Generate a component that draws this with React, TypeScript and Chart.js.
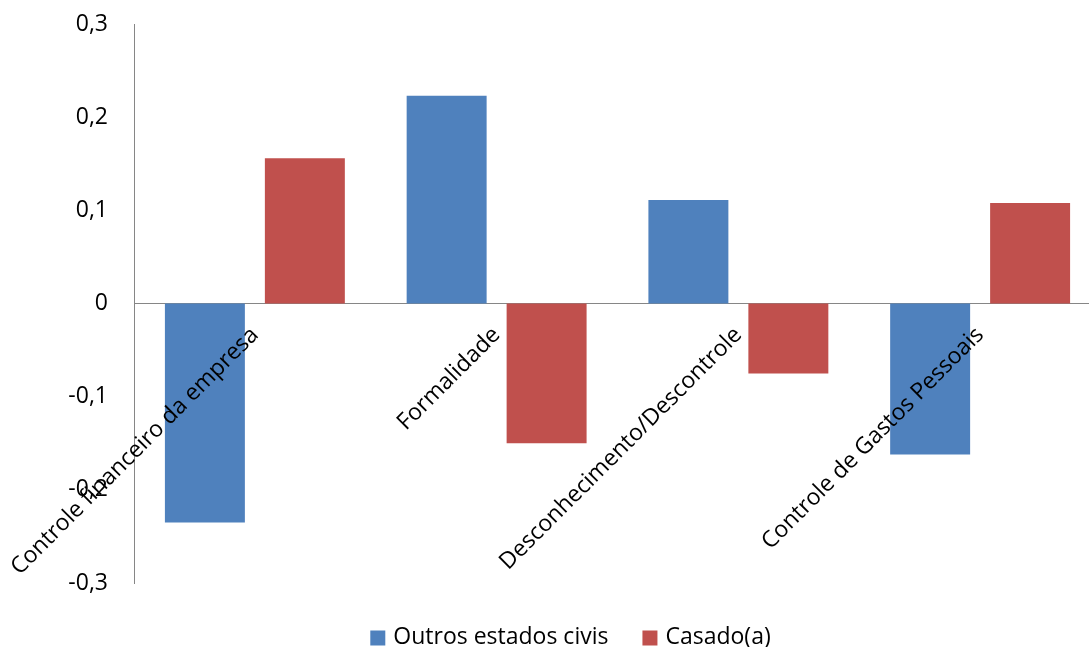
import React, { useEffect, useRef } from 'react';
import { Chart, registerables } from 'chart.js';

Chart.register(...registerables);

const categories = [
  'Controle financeiro da empresa',
  'Formalidade',
  'Desconhecimento/Descontrole',
  'Controle de Gastos Pessoais',
];
const seriesLabels = ['Outros estados civis', 'Casado(a)'];
const outrosValues = [-0.235, 0.223, 0.111, -0.162];
const casadoValues = [0.156, -0.15, -0.075, 0.108];
const yTicks = [-0.3, -0.2, -0.1, 0, 0.1, 0.2, 0.3];

const FONT = '"Open Sans", sans-serif';
const FSIZE = 23;
const BLUE = '#4F81BD';
const RED = '#C0504D';

const fmt = (v: number) => {
  const r = Math.round(v * 10) / 10;
  if (r === 0) return '0';
  return r.toFixed(1).replace('.', ',');
};

const legendPlugin = {
  id: 'customLegend',
  afterDraw(chart: any) {
    const ctx = chart.ctx;
    ctx.save();
    ctx.font = `${FSIZE}px ${FONT}`;
    const box = 15;
    const gap = 8;
    const spacing = 34;
    const items = chart.data.datasets.map((ds: any) => ({
      text: ds.label,
      color: ds.backgroundColor,
      w: ctx.measureText(ds.label).width,
    }));
    const total =
      items.reduce((s: number, it: any) => s + box + gap + it.w, 0) + spacing * (items.length - 1);
    let x = 570.5 - total / 2;
    const cy = 637.5;
    ctx.textBaseline = 'middle';
    ctx.textAlign = 'left';
    items.forEach((it: any) => {
      ctx.fillStyle = it.color;
      ctx.fillRect(x, cy - 7, box, box);
      x += box + gap;
      ctx.fillStyle = '#000';
      ctx.fillText(it.text, x, cy);
      x += it.w + spacing;
    });
    ctx.restore();
  },
};

export default function App() {
  const ref = useRef<HTMLCanvasElement>(null);

  useEffect(() => {
    if (!ref.current) return;
    const chart = new Chart(ref.current, {
      type: 'bar',
      data: {
        labels: categories,
        datasets: [
          {
            label: seriesLabels[0],
            data: outrosValues,
            backgroundColor: BLUE,
            categoryPercentage: 0.827,
            barPercentage: 0.8,
          },
          {
            label: seriesLabels[1],
            data: casadoValues,
            backgroundColor: RED,
            categoryPercentage: 0.827,
            barPercentage: 0.8,
          },
        ],
      },
      options: {
        responsive: false,
        animation: false,
        layout: { padding: { top: 24, bottom: 64, left: 0, right: 0 } },
        plugins: {
          legend: { display: false },
          tooltip: { enabled: false },
        },
        scales: {
          x: {
            position: { y: 0 } as any,
            grid: { display: false, drawTicks: false },
            border: { display: true, color: '#868686', width: 1 },
            ticks: {
              z: 1,
              autoSkip: false,
              minRotation: 45,
              maxRotation: 45,
              padding: 18,
              color: '#000',
              font: { family: FONT, size: FSIZE },
            },
            afterFit: (s: any) => {
              s.paddingLeft = 0;
              s.paddingRight = 0;
              s.paddingTop = 0;
              s.paddingBottom = 0;
            },
          },
          y: {
            min: -0.3,
            max: 0.3,
            afterBuildTicks: (s: any) => {
              s.ticks = yTicks.map((v) => ({ value: v }));
            },
            afterFit: (s: any) => {
              s.width = 134;
              s.paddingTop = 0;
              s.paddingBottom = 0;
            },
            grid: { display: false, drawTicks: false },
            border: { display: true, color: '#868686', width: 1 },
            ticks: {
              padding: 26,
              color: '#000',
              font: { family: FONT, size: FSIZE },
              callback: (v: any) => fmt(Number(v)),
            },
          },
        },
      },
      plugins: [legendPlugin],
    });
    return () => chart.destroy();
  }, []);

  return (
    <div
      style={{
        position: 'absolute',
        left: 0,
        top: 0,
        width: 1089,
        height: 647,
        overflow: 'hidden',
        background: '#fff',
      }}
    >
      <canvas ref={ref} width={1101} height={647} style={{ display: 'block' }} />
    </div>
  );
}
